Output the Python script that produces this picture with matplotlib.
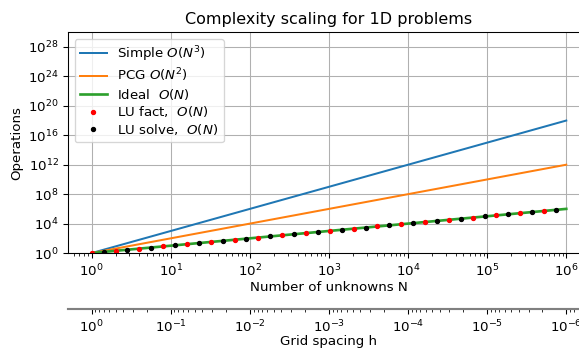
import numpy as np
import matplotlib
matplotlib.use('Agg')
import matplotlib.pyplot as plt

# Endpoints of the model lines (straight on log-log axes)
n_line = [1, 1e6]
simple_ops = [1, 1e18]   # O(N^3)
pcg_ops = [1, 1e12]      # O(N^2)
ideal_ops = [1, 1e6]     # O(N)

lu_fact_n = [1, 2, 4, 8, 16, 32, 64, 128, 256, 512, 1024, 2048, 4096, 8192,
             16384, 32768, 65536, 131072, 262144, 524288]
lu_fact_ops = [1, 2, 4, 8, 16, 32, 64, 128, 256, 512, 1024, 2048, 4096, 8192,
               16384, 32768, 65536, 131072, 262144, 524288]
lu_solve_n = [1.41, 2.83, 5.66, 11.3, 22.6, 45.3, 90.5, 181, 362, 724, 1448,
              2896, 5793, 11585, 23170, 46341, 92682, 185364, 370728, 741455]
lu_solve_ops = [1.41, 2.83, 5.66, 11.3, 22.6, 45.3, 90.5, 181, 362, 724, 1448,
                2896, 5793, 11585, 23170, 46341, 92682, 185364, 370728, 741455]

fig = plt.figure(figsize=(579 / 96, 350 / 96), dpi=96)
ax = fig.add_axes([0.1174, 0.277, 0.9016, 0.631])

ax.loglog(n_line, simple_ops, label='Simple $O(N^3)$')
ax.loglog(n_line, pcg_ops, label='PCG $O(N^2)$')
ax.loglog(n_line, ideal_ops, label='Ideal  $O(N)$', lw=2)
ax.loglog(lu_fact_n, lu_fact_ops, 'r.', label='LU fact,  $O(N)$')
ax.loglog(lu_solve_n, lu_solve_ops, 'k.', label='LU solve,  $O(N)$')

ax.set_ylim(1, 1e30)
ax.set_yticks([1e0, 1e4, 1e8, 1e12, 1e16, 1e20, 1e24, 1e28])
ax.yaxis.set_minor_locator(matplotlib.ticker.NullLocator())
ax.grid(True)
ax.set_xlabel('Number of unknowns N', labelpad=1.5)
ax.set_ylabel('Operations')
ax.set_title('Complexity scaling for 1D problems')
ax.legend(loc='upper left', labelspacing=0.2)

# Grid spacing h = 1/N on a second axis below
secax = ax.secondary_xaxis(-0.253, functions=(lambda x: 1 / x, lambda x: 1 / x))
secax.spines['bottom'].set_color('gray')
secax.spines['bottom'].set_linewidth(1.6)
secax.set_xlabel('Grid spacing h', labelpad=0)

fig.savefig('out.png', dpi=96)
